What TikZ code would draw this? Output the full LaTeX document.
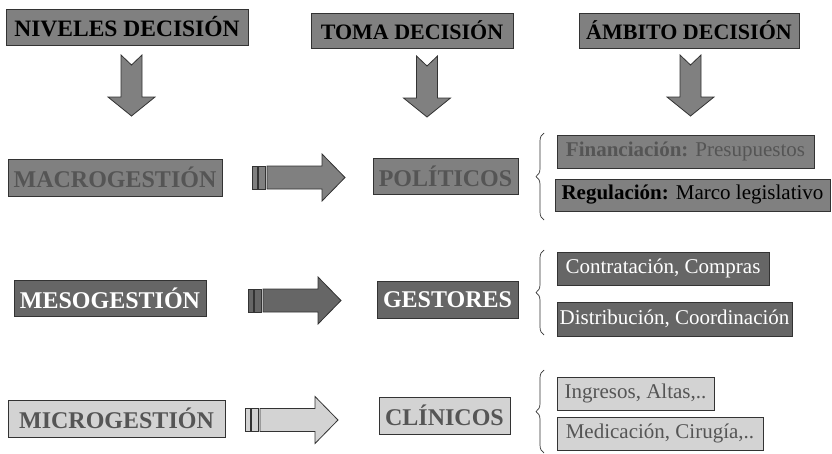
\documentclass[tikz,border=0pt]{standalone}
\usepackage{fontspec}
\setmainfont{Liberation Serif}
\usetikzlibrary{decorations.pathreplacing,shadows}

\definecolor{midgray}{HTML}{808080}
\definecolor{darkfill}{HTML}{666666}
\definecolor{lightfill}{HTML}{D3D3D3}
\definecolor{dimtext}{HTML}{555555}
\definecolor{edge}{HTML}{333333}

\tikzset{
  box/.style={draw=edge, line width=0.9pt, inner sep=0pt, align=center,
    general shadow={fill=black!75, shadow xshift=0.8pt, shadow yshift=-0.8pt}},
  hdr/.style={box, fill=midgray, text=black,
    font=\fontsize{22}{26}\selectfont\bfseries},
  lvl/.style={box, font=\fontsize{24}{28}\selectfont\bfseries},
  item/.style={box, font=\fontsize{21}{25}\selectfont},
  arrowline/.style={draw=edge, line width=0.8pt, line join=miter},
  bracestyle/.style={draw=edge, line width=0.7pt,
    decorate, decoration={brace, amplitude=8pt}},
  % block arrow pointing down, origin at the middle of its notched top
  pics/downarrow/.style={code={
    \filldraw[arrowline, fill=midgray]
      (-10.5,0) -- (0,10) -- (10.5,0) -- (10.5,42) -- (23.5,42)
      -- (0,61) -- (-23.5,42) -- (-10.5,42) -- cycle;
  }},
  % striped block arrow pointing right, origin at left end, mid height
  pics/rightarrow/.style={code={
    \filldraw[arrowline, fill=#1] (0,-11.5) rectangle (5,11.5);
    \filldraw[arrowline, fill=#1] (6.5,-11.5) rectangle (13,11.5);
    \filldraw[arrowline, fill=#1]
      (15,-11.5) -- (70,-11.5) -- (70,-23.5) -- (93,0)
      -- (70,23.5) -- (70,11.5) -- (15,11.5) -- cycle;
  }}
}

\begin{document}
\begin{tikzpicture}[x=1pt, y=-1pt]
  \useasboundingbox (0,0) rectangle (832,453);

  % column headers
  \node[hdr, minimum width=242pt, minimum height=36pt] (niveles) at (127,27)
    {\fontsize{23.5}{27}\selectfont NIVELES DECISIÓN};
  \node[hdr, minimum width=202pt, minimum height=35pt] (toma) at (412,30.5)
    {TOMA DECISIÓN};
  \node[hdr, minimum width=220pt, minimum height=35pt] (ambito) at (689,30.5)
    {ÁMBITO DECISIÓN};

  \pic at (131.5,55) {downarrow};
  \pic at (427,56) {downarrow};
  \pic at (690.5,55) {downarrow};

  % macro level
  \node[lvl, fill=midgray, text=dimtext, minimum width=214pt, minimum height=37pt]
    (macro) at (115,177.5) {MACROGESTIÓN};
  \pic at (252,177.5) {rightarrow=midgray};
  \node[lvl, fill=midgray, text=dimtext, minimum width=145pt, minimum height=36pt]
    (politicos) at (445.5,176) {POLÍTICOS};
  \coordinate (b1top) at (544,133);
  \coordinate (b1bot) at (544,220);
  \draw[bracestyle] (b1bot) -- (b1top);
  \node[item, fill=midgray, text=dimtext, minimum width=257pt, minimum height=33pt]
    (financ) at (685.5,151.5) {\textbf{Financiación:} Presupuestos};
  \node[item, fill=midgray, text=black, minimum width=275pt, minimum height=32pt]
    (regul) at (692.5,195) {\textbf{Regulación:} Marco legislativo};

  % meso level
  \node[lvl, fill=darkfill, text=white, minimum width=192pt, minimum height=36pt]
    (meso) at (110,298) {MESOGESTIÓN};
  \pic at (248,300.5) {rightarrow=darkfill};
  \node[lvl, fill=darkfill, text=white, minimum width=141pt, minimum height=37pt]
    (gestores) at (447.5,299.5) {GESTORES};
  \coordinate (b2top) at (544,250);
  \coordinate (b2bot) at (544,335);
  \draw[bracestyle] (b2bot) -- (b2top);
  \node[item, fill=darkfill, text=white, minimum width=212pt, minimum height=33pt]
    (contrat) at (663,268.5) {Contratación, Compras};
  \node[item, fill=darkfill, text=white, minimum width=235pt, minimum height=34pt]
    (distrib) at (674.5,319) {Distribución, Coordinación};

  % micro level
  \node[lvl, fill=lightfill, text=dimtext, minimum width=217pt, minimum height=37pt]
    (micro) at (116.5,418.5) {MICROGESTIÓN};
  \pic at (245,420) {rightarrow=lightfill};
  \node[lvl, fill=lightfill, text=dimtext, minimum width=131pt, minimum height=37pt]
    (clinicos) at (444.5,415.5) {CLÍNICOS};
  \coordinate (b3top) at (544,370);
  \coordinate (b3bot) at (544,453);
  \draw[bracestyle] (b3bot) -- (b3top);
  \node[item, fill=lightfill, text=dimtext, minimum width=157pt, minimum height=33pt]
    (ingresos) at (635.5,393.5) {Ingresos, Altas,..};
  \node[item, fill=lightfill, text=dimtext, minimum width=206pt, minimum height=33pt]
    (medic) at (660,433.5) {Medicación, Cirugía,..};
\end{tikzpicture}
\end{document}
